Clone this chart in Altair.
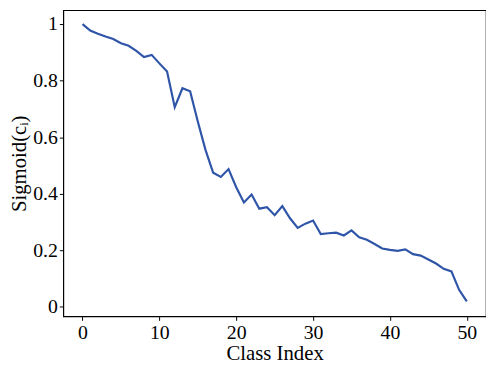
import altair as alt
import pandas as pd

class_index = list(range(51))
sigmoid_vals = [
    1.000, 0.977, 0.966, 0.956, 0.947, 0.932, 0.923, 0.905, 0.883, 0.891,
    0.861, 0.832, 0.706, 0.773, 0.762, 0.655, 0.555, 0.474, 0.459, 0.487,
    0.423, 0.369, 0.397, 0.347, 0.352, 0.324, 0.356, 0.313, 0.279, 0.294,
    0.305, 0.257, 0.260, 0.262, 0.252, 0.270, 0.246, 0.237, 0.222, 0.206,
    0.201, 0.198, 0.203, 0.186, 0.181, 0.167, 0.153, 0.134, 0.125, 0.060,
    0.019,
]
x_ticks = [0, 10, 20, 30, 40, 50]
y_ticks = [0, 0.2, 0.4, 0.6, 0.8, 1]

df = pd.DataFrame({"idx": class_index, "val": sigmoid_vals})

FONT = "Liberation Serif"

chart = (
    alt.Chart(df)
    .mark_line(color="#2f55a8", strokeWidth=2.2)
    .encode(
        x=alt.X(
            "idx:Q",
            scale=alt.Scale(domain=[-2.5, 52.5], nice=False, zero=False),
            axis=alt.Axis(
                values=x_ticks, title="Class Index", grid=False, domain=False,
                tickColor="black", tickSize=4, labelPadding=2, titlePadding=1,
                labelFontSize=20, titleFontSize=21, labelFont=FONT, titleFont=FONT,
                labelColor="black", titleColor="black", titleFontWeight="normal",
            ),
        ),
        y=alt.Y(
            "val:Q",
            scale=alt.Scale(domain=[-0.034, 1.049], nice=False, zero=False),
            axis=alt.Axis(
                values=y_ticks, format="~g", title="Sigmoid(cᵢ)", grid=False, domain=False,
                tickColor="black", tickSize=4, labelPadding=2, titlePadding=3,
                labelFontSize=20, titleFontSize=21, labelFont=FONT, titleFont=FONT,
                labelColor="black", titleColor="black", titleFontWeight="normal",
            ),
        ),
    )
    .properties(
        width=484, height=358,
        padding={"left": 1, "top": 0, "right": 0, "bottom": 0},
        autosize=alt.AutoSizeParams(type="fit", contains="padding"),
    )
    .configure_view(stroke="black", strokeWidth=1.2)
)

chart.save("out.html", embed_options={"renderer": "svg", "actions": False})
